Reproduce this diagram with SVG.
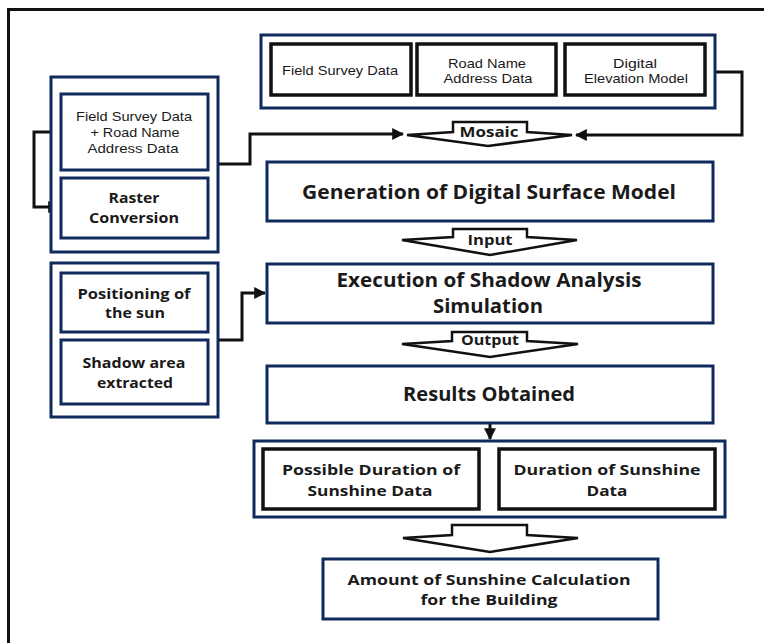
<svg xmlns="http://www.w3.org/2000/svg" width="764" height="643" viewBox="0 0 764 643">
<defs>
<style>
.nv{fill:#fff;stroke:#112a5e;stroke-width:3}
.bk{fill:#fff;stroke:#111;stroke-width:3.5}
.ln{fill:none;stroke:#111;stroke-width:3}
.ba{fill:#fff;stroke:#111;stroke-width:2.5;stroke-linejoin:miter}
text{font-family:"Open Sans","Noto Sans","Liberation Sans",sans-serif;fill:#1a1a1a;text-anchor:middle}
.s{font-family:"Liberation Sans","Open Sans",sans-serif;font-size:13px}
.m{font-size:15px;font-weight:bold}
.l{font-size:20px;font-weight:bold}
.a{font-size:14px;font-weight:bold}
</style>
<marker id="ah" viewBox="0 0 10 10" refX="9" refY="5" markerWidth="4" markerHeight="4" orient="auto" markerUnits="strokeWidth">
<path d="M0,0 L10,5 L0,10 Z" fill="#111"/>
</marker>
</defs>
<rect width="764" height="643" fill="#fff"/>
<rect x="8.5" y="9.5" width="800" height="700" fill="none" stroke="#111" stroke-width="3"/>

<g id="connectors">
<polyline class="ln" points="61,132 34,132 34,207 59,207" marker-end="url(#ah)" stroke-width="2"/>
<polyline class="ln" points="218,164 250,164 250,134 403,134" marker-end="url(#ah)" stroke-width="2.5"/>
<polyline class="ln" points="705,72 742,72 742,135 576,135" marker-end="url(#ah)" stroke-width="2.5"/>
<polyline class="ln" points="218,340 242,340 242,293 265,293" marker-end="url(#ah)" stroke-width="2.5"/>
<line class="ln" x1="490" y1="423" x2="490" y2="439" marker-end="url(#ah)" stroke-width="2"/>
</g>

<g id="arrow-mosaic">
<path class="ba" d="M453,122 H527 V132 L572,135 L488,146 L407,135 L453,132 Z"/>
<text class="a" x="489" y="137" textLength="59" lengthAdjust="spacingAndGlyphs">Mosaic</text>
</g>
<g id="arrow-input">
<path class="ba" d="M453,229 H527 V237 L577,240 L490,255 L402,240 L453,237 Z"/>
<text class="a" x="490" y="245" textLength="45" lengthAdjust="spacingAndGlyphs">Input</text>
</g>
<g id="arrow-output">
<path class="ba" d="M452,332 H527 V341 L578,344 L490,357 L402,344 L452,341 Z"/>
<text class="a" x="490" y="345" textLength="58" lengthAdjust="spacingAndGlyphs">Output</text>
</g>
<g id="arrow-final">
<path class="ba" d="M452,525 H527 V535 L578,538 L490,552 L403,538 L452,535 Z"/>
</g>

<g id="top-group">
<rect class="nv" x="261" y="35" width="454" height="73"/>
<g id="field-survey">
<rect class="bk" x="271" y="44" width="140" height="51"/>
<text class="s" x="340" y="75" textLength="116" lengthAdjust="spacingAndGlyphs">Field Survey Data</text>
</g>
<g id="road-name">
<rect class="bk" x="417" y="44" width="139" height="51"/>
<text class="s" x="487" y="68" textLength="78" lengthAdjust="spacingAndGlyphs">Road Name</text>
<text class="s" x="488" y="83" textLength="89" lengthAdjust="spacingAndGlyphs">Address Data</text>
</g>
<g id="dem">
<rect class="bk" x="565" y="44" width="140" height="51"/>
<text class="s" x="635" y="68" textLength="44" lengthAdjust="spacingAndGlyphs">Digital</text>
<text class="s" x="636" y="83" textLength="104" lengthAdjust="spacingAndGlyphs">Elevation Model</text>
</g>
</g>

<g id="left-top-group">
<rect class="nv" x="51" y="77" width="167" height="175"/>
<g id="fs-road">
<rect class="nv" x="61" y="94" width="147" height="76"/>
<text class="s" x="134" y="121" textLength="116" lengthAdjust="spacingAndGlyphs">Field Survey Data</text>
<text class="s" x="135" y="137" textLength="89" lengthAdjust="spacingAndGlyphs">+ Road Name</text>
<text class="s" x="133" y="153" textLength="91" lengthAdjust="spacingAndGlyphs">Address Data</text>
</g>
<g id="raster">
<rect class="nv" x="61" y="178" width="147" height="60"/>
<text class="m" x="134" y="203" textLength="51" lengthAdjust="spacingAndGlyphs">Raster</text>
<text class="m" x="134" y="223" textLength="90" lengthAdjust="spacingAndGlyphs">Conversion</text>
</g>
</g>

<g id="left-bottom-group">
<rect class="nv" x="51" y="263" width="167" height="154"/>
<g id="positioning">
<rect class="nv" x="61" y="273" width="147" height="59"/>
<text class="m" x="134" y="299" textLength="113" lengthAdjust="spacingAndGlyphs">Positioning of</text>
<text class="m" x="135" y="318" textLength="60" lengthAdjust="spacingAndGlyphs">the sun</text>
</g>
<g id="shadow-area">
<rect class="nv" x="61" y="340" width="147" height="64"/>
<text class="m" x="134" y="368" textLength="103" lengthAdjust="spacingAndGlyphs">Shadow area</text>
<text class="m" x="135" y="388" textLength="76" lengthAdjust="spacingAndGlyphs">extracted</text>
</g>
</g>

<g id="dsm">
<rect class="nv" x="267" y="162" width="446" height="59"/>
<text class="l" x="489" y="199" textLength="374" lengthAdjust="spacingAndGlyphs">Generation of Digital Surface Model</text>
</g>

<g id="execution">
<rect class="nv" x="267" y="264" width="446" height="59"/>
<text class="l" x="489" y="287" textLength="305" lengthAdjust="spacingAndGlyphs">Execution of Shadow Analysis</text>
<text class="l" x="488" y="313" textLength="110" lengthAdjust="spacingAndGlyphs">Simulation</text>
</g>

<g id="results">
<rect class="nv" x="267" y="366" width="446" height="57"/>
<text class="l" x="489" y="401" textLength="172" lengthAdjust="spacingAndGlyphs">Results Obtained</text>
</g>

<g id="bottom-group">
<rect class="nv" x="254" y="441" width="471" height="76"/>
<g id="possible-duration">
<rect class="bk" x="263" y="449" width="216" height="60"/>
<text class="m" x="371" y="475" font-size="16" textLength="178" lengthAdjust="spacingAndGlyphs">Possible Duration of</text>
<text class="m" x="370" y="496" textLength="125" lengthAdjust="spacingAndGlyphs">Sunshine Data</text>
</g>
<g id="duration">
<rect class="bk" x="499" y="449" width="216" height="60"/>
<text class="m" x="607" y="475" textLength="187" lengthAdjust="spacingAndGlyphs">Duration of Sunshine</text>
<text class="m" x="607" y="496" textLength="41" lengthAdjust="spacingAndGlyphs">Data</text>
</g>
</g>

<g id="amount">
<rect class="nv" x="323" y="559" width="335" height="60"/>
<text class="m" x="489" y="585" font-size="17" textLength="283" lengthAdjust="spacingAndGlyphs">Amount of Sunshine Calculation</text>
<text class="m" x="489" y="605" font-size="17" textLength="137" lengthAdjust="spacingAndGlyphs">for the Building</text>
</g>
</svg>
